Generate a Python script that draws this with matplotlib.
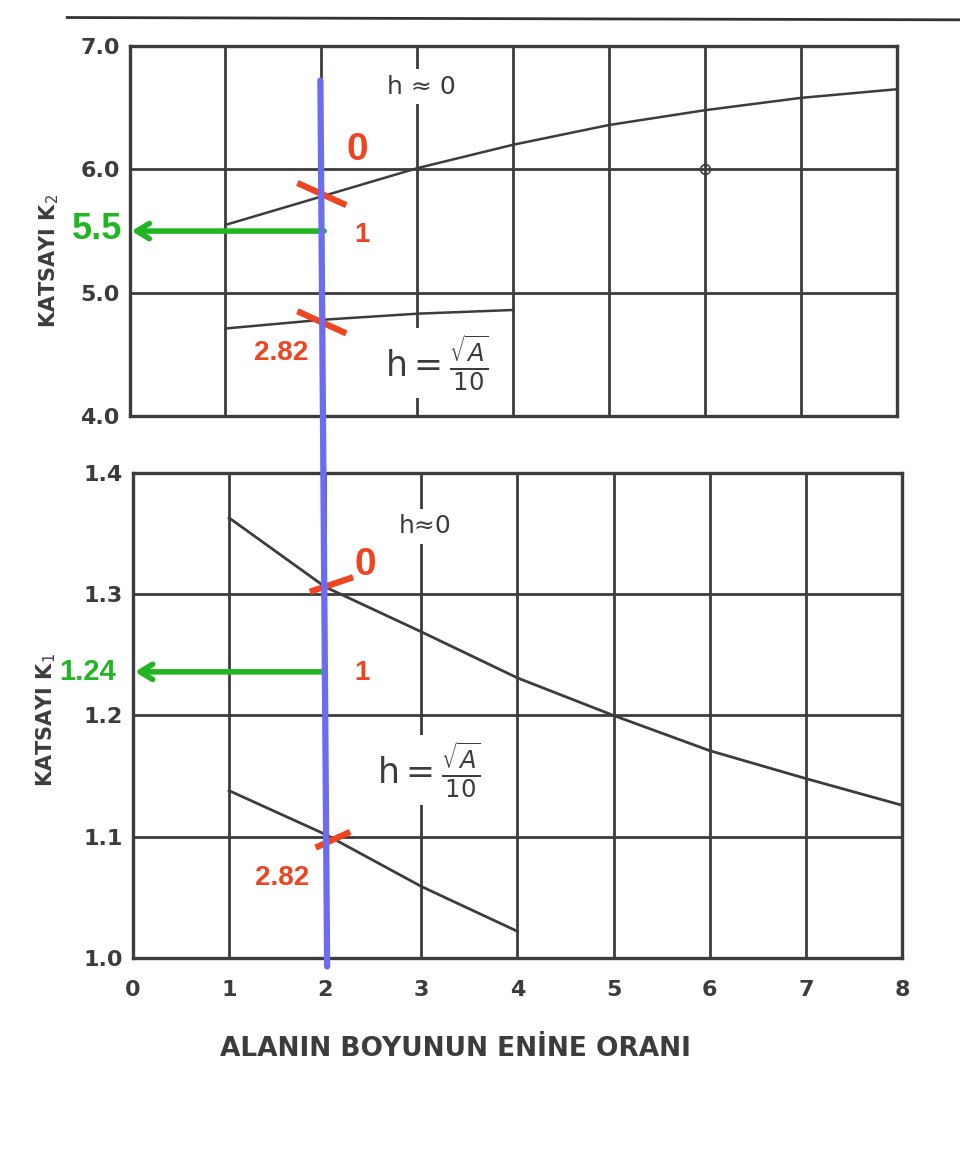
import matplotlib.pyplot as plt
from matplotlib.patches import ConnectionPatch
from matplotlib.lines import Line2D

# alanin boyunun enine orani (x)
oran = [0, 1, 2, 3, 4, 5, 6, 7, 8]

# K2 egrileri
x_k2_h0 = [1, 2, 3, 4, 5, 6, 7, 8]
k2_h0 = [5.55, 5.78, 6.01, 6.20, 6.36, 6.48, 6.58, 6.65]
x_k2_hA = [1, 2, 3, 4]
k2_hA = [4.71, 4.78, 4.83, 4.86]

# K1 egrileri
x_k1_h0 = [1, 2, 3, 4, 5, 6, 7, 8]
k1_h0 = [1.363, 1.306, 1.269, 1.231, 1.200, 1.171, 1.148, 1.126]
x_k1_hA = [1, 2, 3, 4]
k1_hA = [1.138, 1.102, 1.059, 1.022]

k2_ticks = [4.0, 5.0, 6.0, 7.0]
k1_ticks = [1.0, 1.1, 1.2, 1.3, 1.4]

# okunan degerler (isaretler)
oran_secilen = 2
k2_okunan = 5.5
k1_okunan = 1.236
k1_etiket = "1.24"

ink = "#3c3c3c"
red = "#ee4420"
green = "#22b522"
blue = "#6b6cf2"

fig = plt.figure(figsize=(9.6, 11.67), dpi=100)
ax2 = fig.add_axes([0.135, 0.6435, 0.799, 0.317])
ax1 = fig.add_axes([0.1385, 0.1791, 0.801, 0.4156])

for ax, yt in [(ax2, k2_ticks), (ax1, k1_ticks)]:
    ax.set_xlim(0, 8)
    ax.set_ylim(yt[0], yt[-1])
    ax.set_xticks(oran)
    ax.set_yticks(yt)
    ax.set_yticklabels(["%.1f" % v for v in yt])
    ax.grid(True, color=ink, lw=2.0)
    ax.set_axisbelow(True)
    for s in ax.spines.values():
        s.set_color(ink)
        s.set_linewidth(2.4)
    ax.tick_params(length=0, labelsize=16, labelcolor=ink, pad=7)
    for lab in ax.get_yticklabels() + ax.get_xticklabels():
        lab.set_fontweight("bold")

ax2.tick_params(labelbottom=False)
ax1.tick_params(axis="x", pad=16)

ax2.plot(x_k2_h0, k2_h0, color=ink, lw=1.8)
ax2.plot(x_k2_hA, k2_hA, color=ink, lw=1.8)
ax1.plot(x_k1_h0, k1_h0, color=ink, lw=2.0)
ax1.plot(x_k1_hA, k1_hA, color=ink, lw=2.0)
ax2.plot([6], [6.0], marker="o", ms=7, mfc="none", mec=ink, mew=1.2)

ax2.set_ylabel("KATSAYI K$_2$", fontsize=15, color=ink, fontweight="bold")
ax1.set_ylabel("KATSAYI K$_1$", fontsize=15, color=ink, fontweight="bold")
ax2.yaxis.set_label_coords(-0.09, 0.42)
ax1.yaxis.set_label_coords(-0.097, 0.49)
ax1.set_xlabel("ALANIN BOYUNUN ENİNE ORANI", fontsize=19, color=ink, fontweight="bold")
ax1.xaxis.set_label_coords(0.419, -0.16)

box = dict(facecolor="white", edgecolor="none", pad=4)
ax2.text(3.04, 6.67, "h ≈ 0", fontsize=18, color=ink, ha="center", va="center", bbox=box)
ax1.text(3.04, 1.356, "h≈0", fontsize=18, color=ink, ha="center", va="center", bbox=box)
ax2.text(3.2, 4.43, r"$\mathregular{h} = \frac{\sqrt{A}}{10}$", fontsize=25, color=ink,
         ha="center", va="center", bbox=box)
ax1.text(3.08, 1.155, r"$\mathregular{h} = \frac{\sqrt{A}}{10}$", fontsize=25, color=ink,
         ha="center", va="center", bbox=box)

# mavi dikey cizgi (oran = 2)
con = ConnectionPatch(xyA=(oran_secilen - 0.01, 6.72), coordsA=ax2.transData,
                      xyB=(oran_secilen + 0.02, 0.993), coordsB=ax1.transData,
                      color=blue, lw=4.5, zorder=5)
fig.add_artist(con)

# kirmizi isaretler
ax2.plot([1.75, 2.26], [5.89, 5.71], color=red, lw=4.5, zorder=6, solid_capstyle="butt")
ax2.plot([1.75, 2.26], [4.85, 4.67], color=red, lw=4.5, zorder=6, solid_capstyle="butt")
ax1.plot([1.84, 2.29], [1.302, 1.314], color=red, lw=4.5, zorder=6, solid_capstyle="butt")
ax1.plot([1.90, 2.26], [1.091, 1.104], color=red, lw=4.5, zorder=6, solid_capstyle="butt")

ax2.text(2.38, 6.16, "0", color=red, fontsize=28, fontweight="bold",
         family="Liberation Sans", ha="center", va="center")
ax2.text(2.42, 5.47, "1", color=red, fontsize=20, fontweight="bold",
         family="Liberation Sans", ha="center", va="center")
ax2.text(1.58, 4.51, "2.82", color=red, fontsize=20, fontweight="bold",
         family="Liberation Sans", ha="center", va="center")
ax1.text(2.42, 1.324, "0", color=red, fontsize=28, fontweight="bold",
         family="Liberation Sans", ha="center", va="center")
ax1.text(2.385, 1.235, "1", color=red, fontsize=20, fontweight="bold",
         family="Liberation Sans", ha="center", va="center")
ax1.text(1.55, 1.066, "2.82", color=red, fontsize=20, fontweight="bold",
         family="Liberation Sans", ha="center", va="center")

# yesil oklar
arrow = dict(arrowstyle="->,head_length=0.9,head_width=0.55", color=green, lw=4,
             shrinkA=0, shrinkB=0)
ax2.annotate("", xy=(0.02, k2_okunan), xytext=(oran_secilen + 0.03, k2_okunan),
             arrowprops=arrow, zorder=6)
ax1.annotate("", xy=(0.02, k1_okunan), xytext=(oran_secilen, k1_okunan),
             arrowprops=arrow, zorder=6)
ax2.text(-0.34, k2_okunan + 0.01, "%.1f" % k2_okunan, color=green, fontsize=26,
         fontweight="bold", family="Liberation Sans", ha="center", va="center", clip_on=False)
ax1.text(-0.47, k1_okunan, k1_etiket, color=green, fontsize=21,
         fontweight="bold", family="Liberation Sans", ha="center", va="center", clip_on=False)

# sayfa kenari
fig.add_artist(Line2D([0.07, 1.0], [0.985, 0.983], color="#333333", lw=2))

plt.savefig("out.png", dpi=100)
